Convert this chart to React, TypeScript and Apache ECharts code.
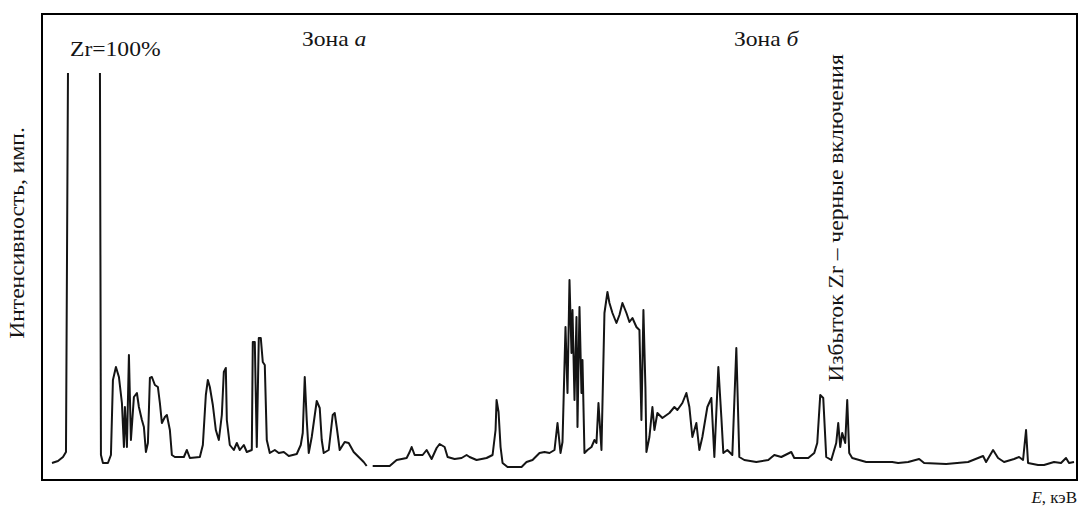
import React, { useEffect, useRef } from "react";
import * as echarts from "echarts";

// Spectrum: [channel, counts]. The trace leaves the scale
// between the two Zr peaks and breaks briefly near channel 328.
const traceStart: number[][] = [
  [10, 17], [16, 19], [21, 23], [24, 28], [26, 407],
];

const traceZoneA: number[][] = [
  [58, 407], [59, 25], [61, 17], [66, 17], [69, 25], [71, 100], [74, 113], [77, 103], [80, 77],
  [82, 33], [83, 73], [85, 33], [87, 125], [89, 40], [92, 83], [95, 87], [97, 73], [100, 60],
  [102, 53], [104, 28], [106, 37], [108, 102], [110, 103], [113, 95], [116, 93], [118, 77],
  [120, 57], [123, 63], [125, 65], [128, 50], [130, 25], [133, 23], [142, 23], [145, 30],
  [148, 22], [158, 23], [161, 35], [164, 85], [166, 100], [168, 93], [171, 75], [174, 50],
  [177, 40], [180, 65], [182, 108], [184, 112], [185, 60], [188, 35], [192, 30], [195, 37],
  [198, 30], [202, 35], [205, 28], [210, 30], [211, 138], [213, 138], [215, 33], [217, 142],
  [219, 142], [221, 118], [223, 115], [225, 40], [228, 27], [233, 30], [237, 27], [242, 28],
  [247, 24], [255, 26], [259, 35], [261, 47], [263, 103], [265, 60], [267, 27], [270, 43],
  [275, 79], [278, 72], [280, 40], [282, 27], [287, 30], [291, 65], [293, 67], [295, 53],
  [298, 30], [303, 38], [307, 37], [312, 28], [317, 23], [322, 18], [325, 14],
];

const traceZoneB: number[][] = [
  [331, 14], [348, 14], [355, 20], [365, 22], [368, 28], [370, 33], [373, 25], [381, 25],
  [385, 30], [390, 21], [395, 32], [398, 36], [403, 33], [406, 23], [413, 21], [420, 22],
  [425, 25], [428, 23], [435, 20], [445, 22], [451, 25], [454, 50], [455, 80], [457, 68],
  [459, 33], [461, 17], [466, 13], [480, 13], [485, 18], [491, 20], [498, 27], [503, 28],
  [508, 27], [513, 30], [516, 57], [519, 27], [521, 38], [524, 153], [526, 87], [528, 200],
  [530, 127], [531, 170], [533, 80], [535, 163], [536, 53], [538, 173], [540, 87], [541, 120],
  [543, 27], [546, 30], [550, 33], [553, 40], [555, 37], [557, 77], [560, 30], [563, 167],
  [566, 188], [568, 177], [571, 167], [575, 157], [578, 165], [581, 177], [585, 167],
  [588, 158], [591, 162], [595, 153], [598, 150], [600, 60], [602, 170], [604, 93], [605, 28],
  [608, 43], [611, 73], [613, 50], [616, 67], [621, 62], [628, 67], [633, 73], [636, 70],
  [641, 77], [645, 87], [648, 73], [651, 43], [655, 57], [658, 30], [661, 43], [666, 73],
  [670, 82], [673, 23], [677, 113], [680, 63], [682, 27], [686, 30], [691, 25], [695, 132],
  [698, 23], [703, 20], [715, 18], [727, 20], [733, 25], [740, 23], [750, 28], [753, 22],
  [767, 22], [773, 27], [776, 37], [779, 85], [782, 82], [785, 23], [790, 20], [795, 37],
  [797, 57], [799, 33], [801, 47], [804, 37], [806, 80], [808, 27], [811, 22], [825, 18],
  [851, 18], [857, 17], [867, 18], [878, 21], [883, 17], [905, 16], [927, 18], [937, 22],
  [942, 24], [945, 18], [952, 30], [957, 22], [963, 18], [973, 21], [978, 23], [982, 20],
  [985, 50], [987, 17], [997, 15], [1003, 15], [1013, 18], [1020, 17], [1025, 22], [1028, 17],
  [1033, 18],
];

const channelRange = [0, 1036];
const countRange = [0, 466];

const labelZr = "Zr=100%";
const labelZoneA = "Зона ";
const labelZoneAItalic = "а";
const labelZoneB = "Зона ";
const labelZoneBItalic = "б";
const labelExcess = "Избыток Zr – черные включения";
const labelY = "Интенсивность, имп.";
const labelXItalic = "E";
const labelX = ", кэВ";

const FONT = "'Liberation Serif', 'DejaVu Serif', serif";
const INK = "#141414";

export default function App() {
  const ref = useRef<HTMLDivElement>(null);

  useEffect(() => {
    if (!ref.current) return;
    const chart = echarts.init(ref.current, null, { renderer: "svg" });
    const lineSeries = (data: number[][]) => ({
      type: "line",
      data,
      showSymbol: false,
      symbol: "none",
      lineStyle: { color: INK, width: 2, join: "round" },
      silent: true,
    });
    const stretch = 1.18;
    chart.setOption({
      animation: false,
      backgroundColor: "#ffffff",
      grid: {
        left: 42,
        right: 3,
        top: 14,
        bottom: 26,
        show: true,
        borderColor: "#000",
        borderWidth: 2,
        containLabel: false,
      },
      xAxis: {
        type: "value",
        min: channelRange[0],
        max: channelRange[1],
        axisLine: { show: false },
        axisTick: { show: false },
        axisLabel: { show: false },
        splitLine: { show: false },
      },
      yAxis: {
        type: "value",
        min: countRange[0],
        max: countRange[1],
        axisLine: { show: false },
        axisTick: { show: false },
        axisLabel: { show: false },
        splitLine: { show: false },
      },
      series: [lineSeries(traceStart), lineSeries(traceZoneA), lineSeries(traceZoneB)],
      graphic: [
        {
          type: "text",
          x: 70,
          y: 50,
          scaleX: stretch,
          style: { text: labelZr, font: `20px ${FONT}`, fill: INK, verticalAlign: "middle" },
        },
        {
          type: "text",
          x: 302,
          y: 40,
          scaleX: stretch,
          style: {
            text: `{n|${labelZoneA}}{i|${labelZoneAItalic}}`,
            verticalAlign: "middle",
            rich: {
              n: { font: `20px ${FONT}`, fill: INK },
              i: { font: `italic 20px ${FONT}`, fill: INK },
            },
          },
        },
        {
          type: "text",
          x: 734,
          y: 40,
          scaleX: stretch,
          style: {
            text: `{n|${labelZoneB}}{i|${labelZoneBItalic}}`,
            verticalAlign: "middle",
            rich: {
              n: { font: `20px ${FONT}`, fill: INK },
              i: { font: `italic 20px ${FONT}`, fill: INK },
            },
          },
        },
        {
          type: "text",
          x: 837,
          y: 218,
          rotation: Math.PI / 2,
          scaleX: stretch,
          style: {
            text: labelExcess,
            font: `20px ${FONT}`,
            fill: INK,
            align: "center",
            verticalAlign: "middle",
          },
        },
        {
          type: "text",
          x: 18,
          y: 233,
          rotation: Math.PI / 2,
          scaleX: stretch,
          style: {
            text: labelY,
            font: `20px ${FONT}`,
            fill: INK,
            align: "center",
            verticalAlign: "middle",
          },
        },
        {
          type: "text",
          x: 1077,
          y: 497,
          style: {
            text: `{i|${labelXItalic}}{n|${labelX}}`,
            align: "right",
            verticalAlign: "middle",
            rich: {
              n: { font: `17px ${FONT}`, fill: INK },
              i: { font: `italic 17px ${FONT}`, fill: INK },
            },
          },
        },
      ],
    });
    return () => chart.dispose();
  }, []);

  return (
    <div
      ref={ref}
      style={{ position: "fixed", left: 0, top: 0, width: 1080, height: 506, background: "#fff" }}
    />
  );
}
